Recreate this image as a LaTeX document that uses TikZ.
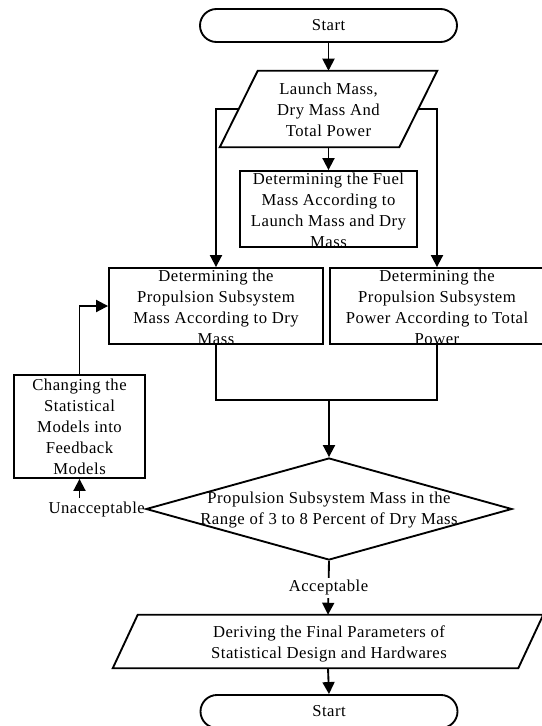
\documentclass[tikz,border=0pt]{standalone}
\usepackage{fontspec}
\setmainfont{Liberation Serif}[LetterSpace=3]
\usetikzlibrary{arrows.meta,shapes.geometric,shapes.misc,calc}
\begin{document}
\begin{tikzpicture}[x=0.75pt,y=-0.75pt,
  every node/.style={font=\fontsize{12.5pt}{15.75pt}\selectfont, inner sep=0pt},
  line/.style={line width=1.4pt},
  arr/.style={line, -{Triangle[length=9pt,width=9pt]}},
  box/.style={draw, line width=1.4pt, rectangle},
  term/.style={draw, line width=1.4pt, rounded rectangle, minimum width=192.75pt, minimum height=24.75pt},
  txt/.style={align=center},
]
\useasboundingbox (0,0) rectangle (542,726);

% shapes
\node[term] (start) at (328.5,25.5) {Start};
\node[minimum width=134.25pt, minimum height=57pt] (inp) at (328.5,109) {};
\draw[line] ($(inp.north west)+(19,0)$) -- ($(inp.north east)+(19,0)$) -- ($(inp.south east)+(-19,0)$) -- ($(inp.south west)+(-19,0)$) -- cycle;
\node[txt] (inptxt) at (328.5,110) {Launch Mass,\\Dry Mass And\\Total Power};

\node[box, minimum width=132.75pt, minimum height=57pt] (fuel) at (328.5,209) {};
\node[txt] (fueltxt) at (328.5,210.5) {Determining the Fuel\\Mass According to\\Launch Mass and Dry\\Mass};

\node[box, minimum width=160.5pt, minimum height=57pt] (lbox) at (216,306) {};
\node[txt] (ltxt) at (216,307) {Determining the\\Propulsion Subsystem\\Mass According to Dry\\Mass};

\node[box, minimum width=160.5pt, minimum height=57pt] (rbox) at (437,306) {};
\node[txt] (rtxt) at (437,307) {Determining the\\Propulsion Subsystem\\Power According to Total\\Power};

\node[box, minimum width=98.25pt, minimum height=77.25pt] (fb) at (79.5,426.5) {};
\node[txt] (fbtxt) at (79.5,426.5) {Changing the\\Statistical\\Models into\\Feedback\\Models};

\node[draw, line width=1.4pt, diamond, minimum width=274.5pt, minimum height=76.5pt] (dia) at (329,509) {};
\node[txt] (diatxt) at (329,510) {Propulsion Subsystem Mass in the\\Range of 3 to 8 Percent of Dry Mass};

\node[minimum width=303.75pt, minimum height=39.75pt] (out) at (328,641.5) {};
\draw[line] ($(out.north west)+(12.5,0)$) -- ($(out.north east)+(12.5,0)$) -- ($(out.south east)+(-12.5,0)$) -- ($(out.south west)+(-12.5,0)$) -- cycle;
\node[txt] (outtxt) at (329,644) {Deriving the Final Parameters of\\Statistical Design and Hardwares};

\node[term] (endt) at (329,711.5) {Start};

% connectors
\draw[arr] (start.south) -- (inp.north);
\draw[arr] (inp.south) -- (fuel.north);
\draw[arr] (inp.west) -| (lbox.north);
\draw[arr] (inp.east) -| (rbox.north);
\coordinate (merge) at (329,400);
\draw[line] (lbox.south) |- (merge);
\draw[line] (rbox.south) |- (merge);
\draw[arr] (merge) -- (dia.north);
\node[anchor=east] (unacc) at (dia.west) {Unacceptable};
\draw[arr] ($(unacc.north -| fb.south)+(0,-3)$) -- (fb.south);
\draw[arr] (fb.north) |- (lbox.west);
\draw[arr] (dia.south) -- node[fill=white, inner ysep=2pt] (acc) {Acceptable} (out.north);
\draw[arr] (out.south) -- (endt.north);
\end{tikzpicture}
\end{document}
